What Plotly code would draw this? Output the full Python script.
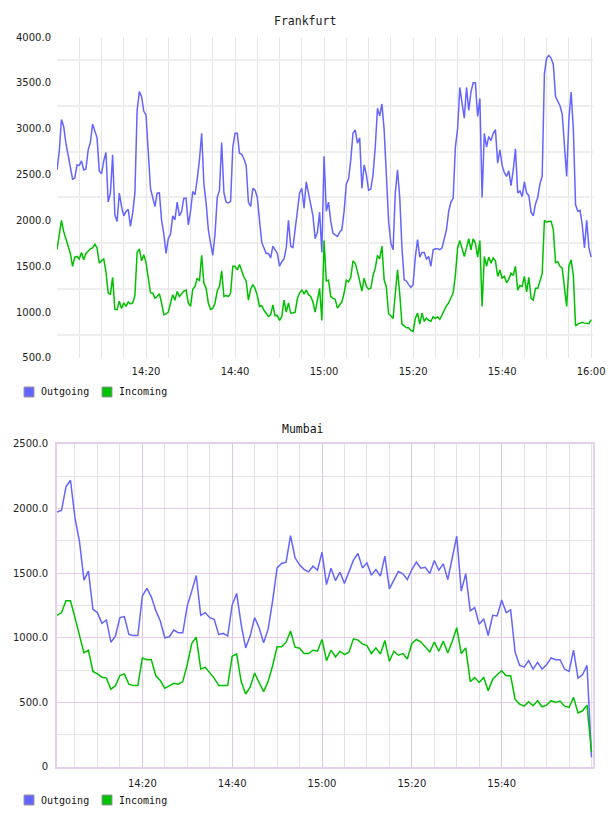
import pandas as pd
import plotly.graph_objects as go

# ---------------- data ----------------
# Frankfurt: samples every 30 s from 14:00 to 16:00
F_START = "2014-01-01 14:00:00"
F_OUT = [
    2550, 2750, 3100, 3024, 2842, 2700, 2550, 2450, 2460, 2606,
    2600, 2650, 2551, 2560, 2769, 2850, 3050, 2969, 2900, 2540,
    2508, 2650, 2740, 2200, 2300, 2715, 2061, 1989, 2297, 2150,
    2050, 2098, 2120, 1934, 2080, 2300, 3200, 3405, 3350, 3190,
    3150, 2750, 2350, 2250, 2150, 2297, 2300, 2000, 1850, 1640,
    1800, 1850, 2050, 2007, 2200, 2050, 2100, 2243, 2243, 1950,
    2100, 2315, 2280, 2450, 2660, 2950, 2400, 2188, 1900, 1752,
    1620, 1850, 2250, 2330, 2850, 2300, 2200, 2190, 2206, 2800,
    2950, 2950, 2733, 2720, 2670, 2600, 2200, 2152, 2350, 2330,
    2250, 2000, 1760, 1700, 1640, 1640, 1590, 1720, 1680, 1640,
    1500, 1550, 1580, 1700, 2000, 1720, 1700, 1900, 2100, 2300,
    2350, 2134, 2420, 2300, 2160, 2050, 1800, 1870, 2090, 1650,
    2700, 2100, 2200, 1989, 1860, 1840, 1825, 1870, 1900, 2098,
    2400, 2450, 2660, 2950, 2987, 2842, 2900, 2350, 2606, 2500,
    2330, 2340, 2500, 2800, 3223, 3140, 3270, 2987, 2500, 1990,
    1752, 1680, 2300, 2551, 2250, 1700, 1353, 1340, 1300, 1270,
    1300, 1600, 1790, 1600, 1650, 1650, 1580, 1607, 1500, 1680,
    1690, 1690, 1680, 1700, 1800, 1900, 2100, 2200, 2243, 2800,
    3000, 3450, 3280, 3114, 3450, 3200, 3400, 3500, 3500, 3133,
    3330, 2250, 2950, 2800, 2915, 2870, 2950, 2990, 2624, 2769,
    2600, 2520, 2480, 2540, 2380, 2550, 2780, 2300, 2320, 2260,
    2420, 2300, 2270, 2090, 2050, 2180, 2250, 2400, 2479, 3600,
    3770, 3800, 3770, 3700, 3350, 3290, 3250, 3160, 2800, 2480,
    3100, 3400, 3000, 2170, 2100, 2110, 1950, 1700, 2000, 1700,
    1600,
]
F_IN = [
    1680, 1850, 2000, 1880, 1807, 1720, 1640, 1500, 1600, 1607,
    1580, 1650, 1571, 1640, 1662, 1690, 1700, 1740, 1700, 1534,
    1560, 1580, 1440, 1210, 1190, 1380, 1030, 1026, 1120, 1040,
    1100, 1062, 1110, 1090, 1100, 1180, 1650, 1690, 1560, 1625,
    1540, 1350, 1210, 1208, 1150, 1170, 1200, 1100, 971, 980,
    1000, 1100, 1190, 1130, 1226, 1170, 1200, 1230, 1240, 1100,
    1062, 1250, 1280, 1371, 1340, 1620, 1317, 1260, 1100, 1030,
    1040, 1100, 1230, 1280, 1450, 1170, 1180, 1170, 1208, 1500,
    1500, 1460, 1520, 1440, 1380, 1340, 1130, 1250, 1300, 1260,
    1180, 1062, 1070, 1020, 980, 953, 970, 1080, 960, 965,
    910, 950, 1130, 1000, 1100, 990, 990, 1000, 1150, 1208,
    1240, 1200, 1240, 1190, 1170, 1110, 1000, 1150, 1260, 910,
    1780, 1340, 1350, 1171, 1150, 1140, 1044, 1080, 1110, 1208,
    1350, 1330, 1380, 1560, 1530, 1444, 1350, 1230, 1371, 1280,
    1250, 1260, 1400, 1480, 1620, 1580, 1720, 1353, 1270, 980,
    960, 930, 1200, 1462, 1200, 870, 850, 830, 830, 800,
    790, 930, 990, 870, 990, 900, 935, 910, 900, 950,
    930, 950, 920, 970, 1030, 1070, 1100, 1150, 1210, 1400,
    1700, 1780, 1680, 1607, 1700, 1800, 1680, 1800, 1750, 1600,
    1780, 1062, 1607, 1500, 1600, 1534, 1590, 1560, 1389, 1460,
    1370, 1390, 1320, 1360, 1425, 1400, 1500, 1240, 1290, 1280,
    1389, 1220, 1380, 1150, 1130, 1260, 1260, 1330, 1420, 2000,
    1980, 1990, 1990, 1900, 1540, 1550, 1500, 1480, 1260, 1062,
    1500, 1570, 1400, 850, 870, 880, 890, 880, 880, 875,
    917,
]

# Mumbai: samples every minute from 14:01 to 16:00
M_START = "2014-01-01 14:01:00"
M_OUT = [
    1974, 1985, 2168, 2219, 1928, 1747, 1446, 1516, 1221, 1195,
    1112, 1138, 966, 1013, 1156, 1164, 1026, 1018, 1018, 1322,
    1382, 1317, 1210, 1130, 1000, 1008, 1060, 1039, 1039, 1247,
    1361, 1482, 1174, 1195, 1156, 1143, 1026, 1034, 1013, 1255,
    1343, 1104, 922, 1013, 1156, 1078, 961, 1065, 1286, 1541,
    1575, 1585, 1791, 1619, 1565, 1530, 1510, 1554, 1523, 1662,
    1412, 1539, 1443, 1508, 1420, 1508, 1601, 1652, 1541, 1580,
    1485, 1528, 1477, 1632, 1379, 1446, 1513, 1495, 1451, 1528,
    1585, 1539, 1546, 1497, 1598, 1523, 1572, 1451, 1619, 1786,
    1361, 1497, 1208, 1234, 1104, 1148, 1018, 1174, 1169, 1292,
    1195, 1216, 888, 786, 773, 823, 758, 810, 758, 792,
    844, 831, 831, 758, 740, 904, 688, 714, 786, 76,
]
M_IN = [
    1174, 1195, 1286, 1286, 1156, 1026, 883, 904, 740, 721,
    695, 688, 602, 628, 708, 721, 641, 630, 630, 844,
    831, 831, 706, 669, 609, 628, 648, 641, 661, 792,
    956, 1005, 758, 771, 727, 688, 630, 630, 630, 857,
    875, 661, 565, 617, 727, 654, 583, 661, 784, 930,
    930, 966, 1052, 927, 919, 878, 878, 904, 896, 987,
    823, 904, 852, 896, 870, 888, 992, 982, 953, 940,
    878, 922, 875, 979, 818, 896, 865, 878, 836, 956,
    987, 969, 930, 891, 966, 896, 974, 883, 974, 1078,
    878, 922, 661, 693, 654, 693, 591, 680, 714, 745,
    706, 706, 523, 487, 471, 505, 474, 513, 466, 479,
    513, 500, 510, 471, 461, 539, 419, 435, 479, 115,
]

DAY = "2014-01-01 "
F_XTICKS = ["14:20", "14:40", "15:00", "15:20", "15:40", "16:00"]
M_XTICKS = ["14:20", "14:40", "15:00", "15:20", "15:40"]
F_YTICKS = [500, 1000, 1500, 2000, 2500, 3000, 3500, 4000]
F_YMINOR = [750, 1250, 1750, 2250, 2750, 3250, 3750]
M_YTICKS = [0, 500, 1000, 1500, 2000, 2500]
M_YMINOR = [250, 750, 1250, 1750, 2250]
SERIES = ["Outgoing", "Incoming"]

# ---------------- styling ----------------
OUT_COLOR = "#6464ff"
IN_COLOR = "#00c000"
TICK_FONT = dict(family="DejaVu Sans", size=10, color="#222222")
MONO = "DejaVu Sans Mono"

F_TIMES = pd.date_range(F_START, periods=len(F_OUT), freq="30s")
M_TIMES = pd.date_range(M_START, periods=len(M_OUT), freq="min")

fig = go.Figure()
fig.add_trace(go.Scatter(x=F_TIMES, y=F_OUT, name=SERIES[0], mode="lines",
                         line=dict(color=OUT_COLOR, width=1.5), xaxis="x2", yaxis="y2"))
fig.add_trace(go.Scatter(x=F_TIMES, y=F_IN, name=SERIES[1], mode="lines",
                         line=dict(color=IN_COLOR, width=1.5), xaxis="x2", yaxis="y2"))
fig.add_trace(go.Scatter(x=M_TIMES, y=M_OUT, name=SERIES[0], mode="lines",
                         line=dict(color=OUT_COLOR, width=1.5), xaxis="x", yaxis="y"))
fig.add_trace(go.Scatter(x=M_TIMES, y=M_IN, name=SERIES[1], mode="lines",
                         line=dict(color=IN_COLOR, width=1.5), xaxis="x", yaxis="y"))

FRAME = "#e4d0ea"

fig.update_layout(
    width=608, height=816,
    margin=dict(l=57, r=15, t=37, b=49, autoexpand=False),
    paper_bgcolor="white", plot_bgcolor="white",
    showlegend=False,
    xaxis2=dict(
        domain=[0, 1], anchor="y2", type="date", automargin=False,
        range=[F_START, DAY + "16:00:25"],
        tickmode="array", tickvals=[DAY + t for t in F_XTICKS], ticktext=F_XTICKS,
        showgrid=True, gridcolor="#e6e6e6", gridwidth=1,
        minor=dict(tick0=DAY + "14:00", dtick=300000, showgrid=True,
                   gridcolor="#e6e6e6", gridwidth=1),
        zeroline=False, showline=False, ticks="",
        tickfont=TICK_FONT, ticklabelstandoff=6,
    ),
    yaxis2=dict(
        domain=[0.5603, 1], anchor="x2", range=[500, 4000], automargin=False,
        tickmode="array", tickvals=F_YTICKS,
        ticktext=[f"{v:.1f}" for v in F_YTICKS],
        showgrid=False,
        minor=dict(tickmode="array", tickvals=F_YMINOR, showgrid=True,
                   gridcolor="#eeeeee", gridwidth=2),
        zeroline=False, showline=False, ticks="",
        tickfont=TICK_FONT, ticklabelstandoff=5,
    ),
    xaxis=dict(
        domain=[0, 1], anchor="y", type="date", automargin=False,
        range=[M_START, DAY + "16:00:20"],
        tickmode="array", tickvals=[DAY + t for t in M_XTICKS], ticktext=M_XTICKS,
        showgrid=True, gridcolor="#dac6de", gridwidth=1,
        minor=dict(tick0=DAY + "14:00", dtick=300000, showgrid=True,
                   gridcolor="#e8e0ea", gridwidth=1),
        zeroline=False, showline=True, linecolor=FRAME, linewidth=2, mirror=True,
        ticks="", tickfont=TICK_FONT, ticklabelstandoff=6,
    ),
    yaxis=dict(
        domain=[0, 0.4425], anchor="x", range=[0, 2500], automargin=False,
        tickmode="array", tickvals=M_YTICKS,
        ticktext=["0" if v == 0 else f"{v:.1f}" for v in M_YTICKS],
        showgrid=True, gridcolor="#e6cce6", gridwidth=1,
        minor=dict(tickmode="array", tickvals=M_YMINOR, showgrid=True,
                   gridcolor="#e6e3e6", gridwidth=1),
        zeroline=False, showline=True, linecolor=FRAME, linewidth=2, mirror=True,
        ticks="", tickfont=TICK_FONT, ticklabelstandoff=5,
    ),
)

# chart titles
W, H = 536.0, 730.0   # plot area size in px (paper)


def px_x(x):
    return (x - 57) / W


def px_y(y):
    return (767 - y) / H


fig.add_annotation(text="Frankfurt", x=px_x(304.5), y=px_y(20.5), xref="paper", yref="paper",
                   showarrow=False, xanchor="center", yanchor="middle",
                   font=dict(family=MONO, size=11.5, color="#222222"))
fig.add_annotation(text="Mumbai", x=px_x(303), y=px_y(428.5), xref="paper", yref="paper",
                   showarrow=False, xanchor="center", yanchor="middle",
                   font=dict(family=MONO, size=11.5, color="#111111"))

# legends (one under each chart)
for cy in (392, 800):
    for name, color, bx, tx in ((SERIES[0], OUT_COLOR, 24, 39), (SERIES[1], IN_COLOR, 102, 117)):
        fig.add_shape(type="rect", xref="paper", yref="paper",
                      x0=px_x(bx), x1=px_x(bx + 10), y0=px_y(cy + 5), y1=px_y(cy - 5),
                      fillcolor=color, line=dict(color="#999999", width=1))
        fig.add_annotation(text=name, x=px_x(tx), y=px_y(cy), xref="paper", yref="paper",
                           showarrow=False, xanchor="left", yanchor="middle",
                           font=dict(family=MONO, size=10, color="#111111"))

fig.write_html("out.html")
